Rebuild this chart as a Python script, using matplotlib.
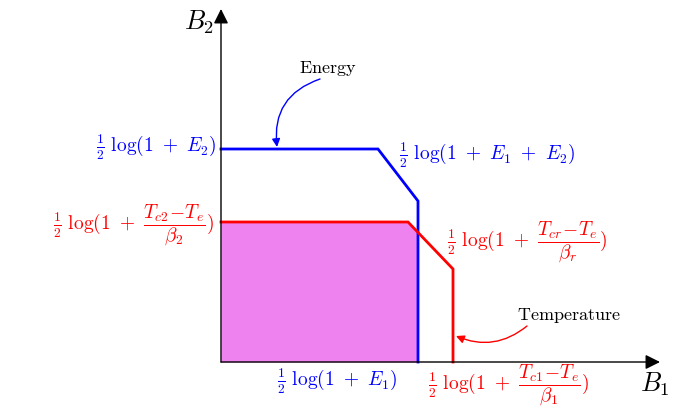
import numpy as np
import matplotlib
matplotlib.use("Agg")
import matplotlib.pyplot as plt

plt.rcParams['mathtext.fontset'] = 'cm'
plt.rcParams['font.family'] = 'serif'
plt.rcParams['font.serif'] = ['cmr10', 'DejaVu Serif']
plt.rcParams['axes.formatter.use_mathtext'] = True

# Region boundaries (arbitrary units, origin at axes crossing)
blue_x = [0, 157, 197, 197]
blue_y = [213, 213, 161, 0]
red_x = [0, 187, 232, 232]
red_y = [140, 140, 93, 0]

blue_color = '#0000ff'
red_color = '#ff0000'
fill_color = '#ee82ee'

fig = plt.figure(figsize=(6.94, 4.10), dpi=100)
ax = fig.add_axes([0, 0, 1, 1])
ax.set_xlim(-221, 473)
ax.set_ylim(-47, 363)
ax.axis('off')

# filled achievable region: under red curve, left of blue vertical
fx = np.array([0, red_x[1], blue_x[2]])
fy = np.interp(fx, red_x[:3], red_y[:3])
ax.fill_between(fx, 0, fy, color=fill_color, lw=0, zorder=1)

ax.plot(blue_x, blue_y, color=blue_color, lw=2, zorder=3, solid_joinstyle='miter')
ax.plot(red_x, red_y, color=red_color, lw=2, zorder=3, solid_joinstyle='miter')

# axes with arrows
ax.annotate('', xy=(0, 353), xytext=(0, 0),
            arrowprops=dict(arrowstyle='-|>', color='black', lw=1, mutation_scale=22,
                            shrinkA=0, shrinkB=0), zorder=4)
ax.annotate('', xy=(439, 0), xytext=(0, 0),
            arrowprops=dict(arrowstyle='-|>', color='black', lw=1, mutation_scale=22,
                            shrinkA=0, shrinkB=0), zorder=4)
ax.text(-7, 341, '$B_2$', fontsize=19, ha='right', va='center')
ax.text(419, -21, '$B_1$', fontsize=19, ha='left', va='center')

fs = 14
ax.text(-5, 216, r'$\frac{1}{2}\ \log(1\ +\ E_2)$', color=blue_color, fontsize=fs,
        ha='right', va='center')
ax.text(-7, 138, r'$\frac{1}{2}\ \log(1\ +\ \dfrac{T_{c2}\!-\!T_e}{\beta_2})$', color=red_color,
        fontsize=fs, ha='right', va='center')
ax.text(178, 208, r'$\frac{1}{2}\ \log(1\ +\ E_1\ +\ E_2)$', color=blue_color, fontsize=fs,
        ha='left', va='center')
ax.text(226, 121, r'$\frac{1}{2}\ \log(1\ +\ \dfrac{T_{cr}\!-\!T_e}{\beta_r})$', color=red_color,
        fontsize=fs, ha='left', va='center')
ax.text(56, -18, r'$\frac{1}{2}\ \log(1\ +\ E_1)$', color=blue_color, fontsize=fs,
        ha='left', va='center')
ax.text(207, -22, r'$\frac{1}{2}\ \log(1\ +\ \dfrac{T_{c1}\!-\!T_e}{\beta_1})$', color=red_color,
        fontsize=fs, ha='left', va='center')

# Energy annotation
ax.text(107, 295, r'$\mathrm{Energy}$', fontsize=13, ha='center', va='center')
ax.annotate('', xy=(56, 215), xytext=(99, 283),
            arrowprops=dict(arrowstyle='-|>', color=blue_color, lw=1, mutation_scale=12,
                            shrinkA=0, shrinkB=0, connectionstyle='arc3,rad=0.4'))

# Temperature annotation
ax.text(348, 47, r'$\mathrm{Temperature}$', fontsize=13, ha='center', va='center')
ax.annotate('', xy=(235, 26), xytext=(306, 36),
            arrowprops=dict(arrowstyle='-|>', color=red_color, lw=1, mutation_scale=12,
                            shrinkA=0, shrinkB=0, connectionstyle='arc3,rad=-0.3'))

fig.savefig('out.png', dpi=100)
